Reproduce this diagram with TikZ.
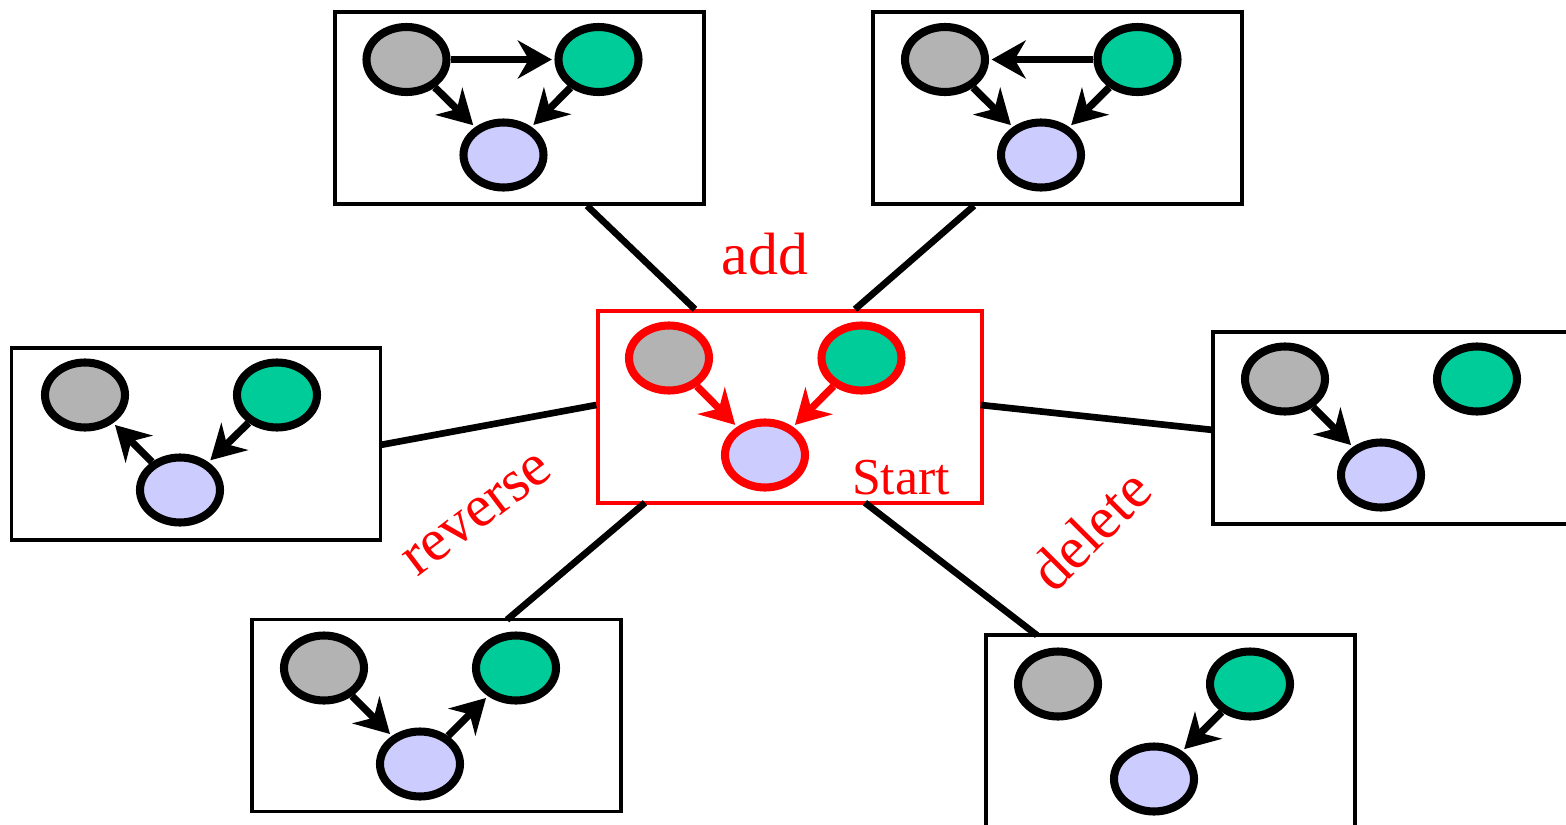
\documentclass[tikz,border=0pt]{standalone}
\usepackage{fontspec}
\setmainfont{Liberation Serif}
\usetikzlibrary{shapes.geometric,arrows.meta,calc}
\definecolor{ngray}{HTML}{B3B3B3}
\definecolor{ngreen}{HTML}{00CC99}
\definecolor{nblue}{HTML}{CCCCFF}
\begin{document}
\begin{tikzpicture}[x=0.02cm,y=-0.02cm,
  vnode/.style={ellipse,draw=black,line width=4.6pt,minimum width=1.6cm,minimum height=1.3cm,inner sep=0pt},
  rnode/.style={vnode,draw=red},
  gr/.style={fill=ngray},
  gn/.style={fill=ngreen},
  bl/.style={fill=nblue},
  box/.style={draw=black,line width=2pt,minimum width=7.38cm,minimum height=3.84cm,inner sep=0pt},
  sbox/.style={draw=red,line width=2pt,minimum width=7.68cm,minimum height=3.84cm,inner sep=0pt},
  edge/.style={line width=4.2pt,-{Stealth[length=0.68cm,width=0.76cm,inset=0.22cm]},shorten >=1.5pt},
  redge/.style={edge,draw=red,fill=red},
  link/.style={line width=3.8pt},
  lab/.style={text=red,font=\fontsize{34}{34}\selectfont,inner sep=0pt}
]
\clip (0,0) rectangle (1566,825);
% boxes
\node[box] (tl) at (519.5,108) {};
\node[box] (tr) at (1057.5,108) {};
\node[sbox] (st) at (790,407) {};
\node[box] (lf) at (196,444) {};
\node[box] (rt) at (1397.5,428) {};
\node[box] (bL) at (436.5,715.5) {};
\node[box] (bR) at (1170.5,731) {};
% connectors
\coordinate (tlA) at ($(tl.south)+(67.5,0)$);
\coordinate (stA) at ($(st.north)+(-95,0)$);
\draw[link] (tlA) -- (stA);
\coordinate (trA) at ($(tr.south)+(-83.5,0)$);
\coordinate (stB) at ($(st.north)+(65,0)$);
\draw[link] (trA) -- (stB);
\coordinate (lfA) at ($(lf.east)+(-2,1)$);
\coordinate (stC) at ($(st.west)+(0,-2)$);
\draw[link] (lfA) -- (stC);
\coordinate (rtA) at ($(rt.west)+(2,2)$);
\coordinate (stD) at ($(st.east)+(-3,-2)$);
\draw[link] (rtA) -- (stD);
\coordinate (bLA) at ($(bL.north)+(70.5,2)$);
\coordinate (stE) at ($(st.south)+(-145,-2)$);
\draw[link] (bLA) -- (stE);
\coordinate (bRA) at ($(bR.north)+(-133.5,2)$);
\coordinate (stF) at ($(st.south)+(75,-2)$);
\draw[link] (bRA) -- (stF);
% top-left
\node[vnode,gr] (a1) at (406.5,59.5) {};
\node[vnode,gn] (b1) at (598.5,59.5) {};
\node[vnode,bl] (c1) at (503.5,155) {};
\draw[edge] (a1) -- (b1);
\draw[edge] (a1) -- (c1);
\draw[edge] (b1) -- (c1);
% top-right
\node[vnode,gr] (a2) at (945,59.5) {};
\node[vnode,gn] (b2) at (1137.5,59.5) {};
\node[vnode,bl] (c2) at (1041,155) {};
\draw[edge] (b2) -- (a2);
\draw[edge] (a2) -- (c2);
\draw[edge] (b2) -- (c2);
% start
\node[rnode,gr] (a3) at (669,358) {};
\node[rnode,gn] (b3) at (861.5,358) {};
\node[rnode,bl] (c3) at (765,455) {};
\draw[redge] (a3) -- (c3);
\draw[redge] (b3) -- (c3);
% left
\node[vnode,gr] (a4) at (85,395) {};
\node[vnode,gn] (b4) at (277,395) {};
\node[vnode,bl] (c4) at (180,490) {};
\draw[edge] (c4) -- (a4);
\draw[edge] (b4) -- (c4);
% right
\node[vnode,gr] (a5) at (1285,379) {};
\node[vnode,gn] (b5) at (1477,379) {};
\node[vnode,bl] (c5) at (1381,475) {};
\draw[edge] (a5) -- (c5);
% bottom-left
\node[vnode,gr] (a6) at (324,668) {};
\node[vnode,gn] (b6) at (516,668) {};
\node[vnode,bl] (c6) at (420,764) {};
\draw[edge] (a6) -- (c6);
\draw[edge] (c6) -- (b6);
% bottom-right
\node[vnode,gr] (a7) at (1058,684) {};
\node[vnode,gn] (b7) at (1250,684) {};
\node[vnode,bl] (c7) at (1154,779) {};
\draw[edge] (b7) -- (c7);
% labels
\node[lab] (ladd) at (765,254) {add};
\node[lab,font=\fontsize{29.5}{29.5}\selectfont] (lstart) at (901,478) {Start};
\node[lab,rotate=37] (lrev) at (478,515) {reverse};
\node[lab,rotate=45] (ldel) at (1090,530) {delete};
\end{tikzpicture}
\end{document}
